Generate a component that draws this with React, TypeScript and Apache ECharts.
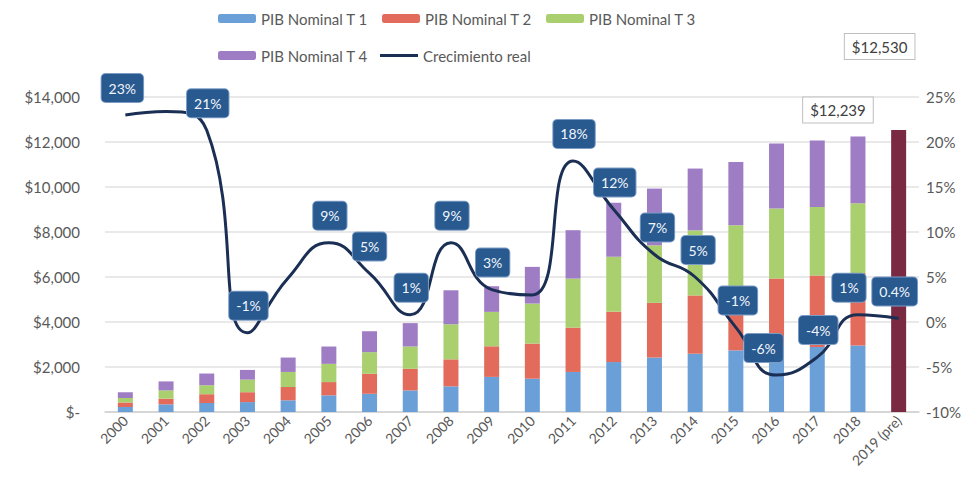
import React, { useEffect, useRef } from "react";
import * as echarts from "echarts";

const years = ["2000","2001","2002","2003","2004","2005","2006","2007","2008","2009","2010","2011","2012","2013","2014","2015","2016","2017","2018","2019 (pre)"];
const t1 = [220,340,400,440,520,740,810,960,1140,1560,1480,1780,2220,2420,2590,2740,2950,2890,2960,null];
const t2 = [200,250,390,440,590,590,890,960,1200,1360,1560,1970,2240,2430,2590,2710,2980,3180,3219,null];
const t3 = [200,370,400,560,670,810,960,990,1560,1530,1780,2180,2440,2560,2890,2850,3110,3040,3100,null];
const t4 = [260,400,520,430,640,770,930,1040,1510,1140,1630,2150,2400,2520,2750,2810,2890,2960,2960,null];
const pre2019 = [null,null,null,null,null,null,null,null,null,null,null,null,null,null,null,null,null,null,null,12530];
const growth = [23,23.4,21.3,-1.2,4.9,8.8,5.4,0.8,8.8,3.6,3.0,17.9,12.5,7.5,5.0,-0.6,-5.9,-3.9,0.8,0.4];
const growthLabels = ["23%","","21%","-1%","","9%","5%","1%","9%","3%","","18%","12%","7%","5%","-1%","-6%","-4%","1%","0.4%"];
const leftTicks = { min: 0, max: 14000, interval: 2000 };
const rightTicks = { min: -10, max: 25, interval: 5 };

// style-only: horizontal nudges for the growth labels
const labelDx = [-3,0,1,1,0,1,0,1,1,1,0,1,1,3,3,2,-13,1,-9,-4];

const FONT = "Lato, 'Noto Sans', sans-serif";
const GRAY = "#595959";
const NAVY = "#1B2F55";

const fmtMoney = (v: number) => (v === 0 ? "$-" : "$" + v.toLocaleString("en-US"));

export default function App() {
  const ref = useRef<HTMLDivElement>(null);
  useEffect(() => {
    if (!ref.current) return;
    const chart = echarts.init(ref.current, undefined, { renderer: "svg" });
    const total2018 = (t1[18] || 0) + (t2[18] || 0) + (t3[18] || 0) + (t4[18] || 0);
    const annBox = {
      show: true,
      position: "top" as const,
      backgroundColor: "#ffffff",
      borderColor: "#BFBFBF",
      borderWidth: 1,
      padding: [5, 7],
      color: "#404040",
      fontSize: 15,
      fontFamily: FONT,
    };
    const option: any = {
      animation: false,
      textStyle: { fontFamily: FONT },
      legend: [
        {
          data: ["PIB Nominal T 1", "PIB Nominal T 2", "PIB Nominal T 3"],
          left: 213,
          top: 6,
          itemWidth: 38,
          itemHeight: 9,
          itemGap: 14,
          textStyle: { color: GRAY, fontSize: 15, fontFamily: FONT },
        },
        {
          data: [
            "PIB Nominal T 4",
            { name: "Crecimiento real", icon: "path://M0,0H38V3H0Z", itemStyle: { color: NAVY } },
          ],
          left: 213,
          top: 43,
          itemWidth: 38,
          itemHeight: 9,
          itemGap: 12,
          textStyle: { color: GRAY, fontSize: 15, fontFamily: FONT },
        },
      ],
      grid: { left: 105, right: 58, top: 97, bottom: 90, containLabel: false },
      xAxis: {
        type: "category",
        data: years,
        axisLine: { lineStyle: { color: "#D0D0D0", width: 1.5 } },
        axisTick: { show: false },
        axisLabel: { rotate: 45, color: GRAY, fontSize: 14, fontFamily: FONT, margin: 6, interval: 0 },
      },
      yAxis: [
        {
          type: "value",
          ...leftTicks,
          axisLabel: { formatter: fmtMoney, color: GRAY, fontSize: 15, fontFamily: FONT, margin: 25 },
          splitLine: { lineStyle: { color: "#E2E2E2", width: 1.5 } },
          axisLine: { show: false },
          axisTick: { show: false },
        },
        {
          type: "value",
          ...rightTicks,
          axisLabel: { formatter: (v: number) => v + "%", color: GRAY, fontSize: 15, fontFamily: FONT, margin: 7 },
          splitLine: { show: false },
          axisLine: { show: false },
          axisTick: { show: false },
        },
      ],
      series: [
        { name: "PIB Nominal T 1", type: "bar", stack: "pib", data: t1, barWidth: 15, itemStyle: { color: "#6A9FD8" } },
        { name: "PIB Nominal T 2", type: "bar", stack: "pib", data: t2, barWidth: 15, itemStyle: { color: "#E26B5C" } },
        { name: "PIB Nominal T 3", type: "bar", stack: "pib", data: t3, barWidth: 15, itemStyle: { color: "#A9CF6E" } },
        {
          name: "PIB Nominal T 4",
          type: "bar",
          stack: "pib",
          barWidth: 15,
          itemStyle: { color: "#9F7DC4" },
          data: t4.map((v, i) =>
            i === 18
              ? { value: v, label: { ...annBox, distance: 14, offset: [-20, 0], formatter: fmtMoney(total2018) } }
              : v
          ),
        },
        {
          name: "PIB 2019 (pre)",
          type: "bar",
          stack: "pib",
          barWidth: 15,
          itemStyle: { color: "#7A2942" },
          data: pre2019.map((v) =>
            v == null ? v : { value: v, label: { ...annBox, distance: 71, offset: [-19, 0], formatter: fmtMoney(v) } }
          ),
        },
        {
          name: "Crecimiento real",
          type: "line",
          yAxisIndex: 1,
          smooth: true,
          symbol: "circle",
          symbolSize: 0,
          showSymbol: true,
          z: 5,
          lineStyle: { color: NAVY, width: 3 },
          itemStyle: { color: NAVY },
          data: growth.map((v, i) => ({
            value: v,
            label: {
              show: growthLabels[i] !== "",
              formatter: growthLabels[i],
              position: "top",
              distance: 13,
              offset: [labelDx[i], 0],
              backgroundColor: "#28598F",
              borderColor: "#7C9CC6",
              borderWidth: 1,
              borderRadius: 4,
              padding: [7, 7],
              color: "#F2F6FB",
              fontSize: 14,
              fontFamily: FONT,
            },
          })),
        },
      ],
    };
    chart.setOption(option);
    return () => chart.dispose();
  }, []);
  return (
    <div
      ref={ref}
      style={{ position: "fixed", left: 0, top: 0, width: 977, height: 502, background: "#ffffff" }}
    />
  );
}
